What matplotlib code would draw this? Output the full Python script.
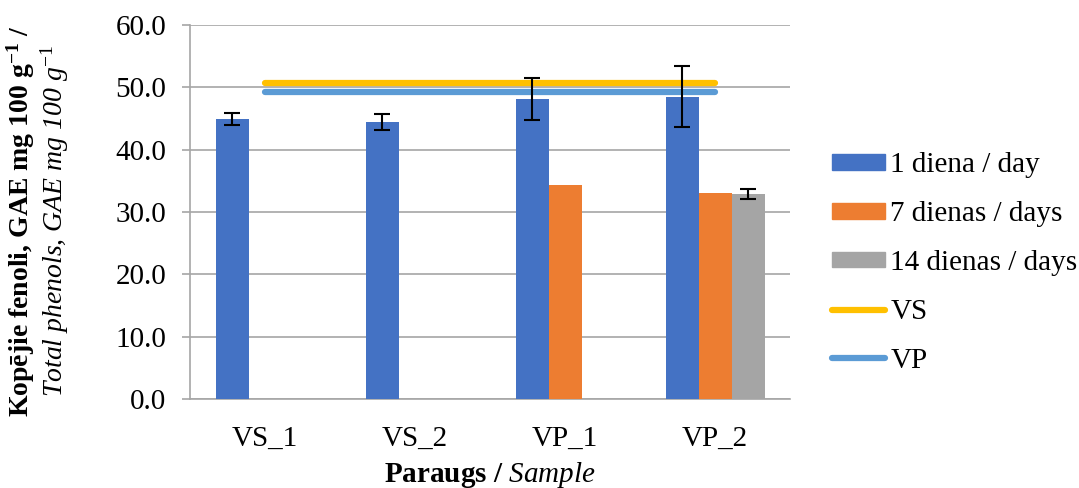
import matplotlib
matplotlib.use("Agg")
import matplotlib.pyplot as plt
import numpy as np
from matplotlib.patches import Patch
from matplotlib.lines import Line2D

plt.rcParams['font.family'] = ['Liberation Serif', 'DejaVu Serif']
plt.rcParams['mathtext.fontset'] = 'custom'
plt.rcParams['mathtext.rm'] = 'Liberation Serif'
plt.rcParams['mathtext.bf'] = 'Liberation Serif:bold'
plt.rcParams['mathtext.it'] = 'Liberation Serif:italic'

categories = ["VS_1", "VS_2", "VP_1", "VP_2"]
day1 = [44.9, 44.4, 48.1, 48.5]
day1_err = [1.0, 1.3, 3.4, 4.85]
day7 = [np.nan, np.nan, 34.3, 33.0]
day14 = [np.nan, np.nan, np.nan, 32.9]
day14_err = [0, 0, 0, 0.8]
vs_line = [50.75, 50.75, 50.75, 50.75]
vp_line = [49.3, 49.3, 49.3, 49.3]
series_labels = ["1 diena / day", "7 dienas / days", "14 dienas / days", "VS", "VP"]
yticks = [0, 10, 20, 30, 40, 50, 60]

c_blue = '#4472C4'
c_orange = '#ED7D31'
c_gray = '#A5A5A5'
c_yellow = '#FFC000'
c_lblue = '#5B9BD5'
grid_c = '#A6A6A6'
FS = 21

fig = plt.figure(figsize=(10.79, 4.88), dpi=100)
ax = fig.add_axes([190/1079, 1-399/488, 600/1079, 374/488])

x = np.arange(len(categories))
w = 0.22
ax.bar(x - w, day1, w, color=c_blue, zorder=3)
ax.bar(x, day7, w, color=c_orange, zorder=3)
ax.bar(x + w, day14, w, color=c_gray, zorder=3)
ax.errorbar(x - w, day1, yerr=day1_err, fmt='none', ecolor='black', elinewidth=1.5, capsize=6, capthick=1.5, zorder=5)
m = np.array(day14_err) > 0
ax.errorbar((x + w)[m], np.array(day14)[m], yerr=np.array(day14_err)[m], fmt='none', ecolor='black', elinewidth=1.5, capsize=6, capthick=1.5, zorder=5)
ax.plot(x, vs_line, color=c_yellow, lw=4.5, solid_capstyle='round', zorder=4)
ax.plot(x, vp_line, color=c_lblue, lw=4.5, solid_capstyle='round', zorder=4)

ax.set_xlim(-0.5, 3.5)
ax.set_ylim(0, 60)
ax.set_yticks(yticks)
ax.set_yticklabels([f"{v:.1f}" for v in yticks])
ax.set_xticks(x)
ax.set_xticklabels(categories)
ax.yaxis.grid(True, color=grid_c, lw=1.2, zorder=0)
for s in ['top', 'right']:
    ax.spines[s].set_visible(False)
ax.spines['left'].set_color(grid_c)
ax.spines['bottom'].set_color(grid_c)
ax.spines['left'].set_linewidth(1.2)
ax.spines['bottom'].set_linewidth(1.2)
ax.tick_params(axis='y', length=6, color=grid_c, width=1.2, labelsize=FS, pad=11)
ax.tick_params(axis='x', length=0, labelsize=FS, pad=19)

ax.set_xlabel(r"Paraugs / $\mathit{Sample}$", fontsize=FS, fontweight='bold', labelpad=6)

fig.text(21/1079, 1-221/488, r"Kopējie fenoli, GAE mg 100 g$^{\mathbf{-1}}$ /", rotation=90,
         fontsize=20, fontweight='bold', ha='center', va='center')
fig.text(55/1079, 1-221/488, r"Total phenols, GAE mg 100 g$^{\mathit{-1}}$", rotation=90,
         fontsize=20, style='italic', ha='center', va='center')

handles = [Patch(color=c_blue), Patch(color=c_orange), Patch(color=c_gray),
           Line2D([], [], color=c_yellow, lw=4.5, solid_capstyle='round'),
           Line2D([], [], color=c_lblue, lw=4.5, solid_capstyle='round')]
fig.legend(handles, series_labels, loc='center left', bbox_to_anchor=(832/1079, 1-263/488),
           frameon=False, fontsize=FS, handlelength=1.8, handleheight=0.45,
           handletextpad=0.2, labelspacing=0.78, borderaxespad=0, borderpad=0)

fig.savefig("out.png", dpi=100)
